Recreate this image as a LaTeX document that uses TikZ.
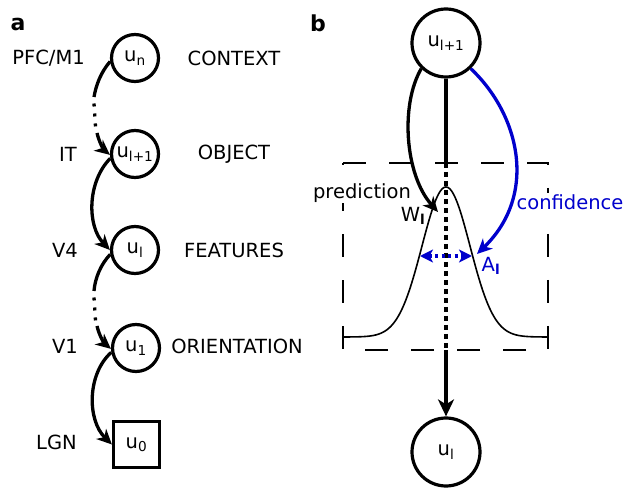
\documentclass[tikz,border=0pt]{standalone}
\usepackage{fontspec}
\setmainfont{DejaVu Sans}
\usetikzlibrary{arrows.meta}
\definecolor{cblue}{RGB}{0,0,204}
\begin{document}
\begin{tikzpicture}[x=1pt,y=-1pt,
  every node/.style={font=\fontsize{19.5}{23}\selectfont},
  lbl/.style={inner sep=0pt},
  panel/.style={inner sep=0pt,font=\fontsize{22}{26}\selectfont\bfseries},
  unit/.style={circle,draw,line width=3.2pt,minimum size=47pt,inner sep=0pt},
  bigunit/.style={circle,draw,line width=3.2pt,minimum size=68pt,inner sep=0pt},
  inunit/.style={rectangle,draw,line width=3.2pt,minimum size=46pt,inner sep=0pt},
  conn/.style={line width=3.3pt},
  dots/.style={line width=3.3pt,dash pattern=on 3pt off 7pt},
  tipa/.style={-{Stealth[length=15pt,width=14pt,inset=4.5pt]}},
  tipb/.style={-{Stealth[length=17pt,width=16pt,inset=5pt]}},
  boxdash/.style={line width=2.3pt,dash pattern=on 23pt off 23pt},
  tag/.style={inner sep=1pt,fill=white}
]
\useasboundingbox (0,0) rectangle (641,492);

% ---------- panel a ----------
\node[panel] (pa) at (18,24) {a};
\node[unit] (un)  at (135,58)  {u\textsubscript{n}};
\node[unit] (ul1) at (135,154) {u\textsubscript{l+1}};
\node[unit] (ul)  at (135,250) {u\textsubscript{l}};
\node[unit] (u1)  at (136,348) {u\textsubscript{1}};
\node[inunit] (u0) at (136.5,444.5) {u\textsubscript{0}};

\node[lbl,anchor=east] (l1) at (85,58)  {PFC/M1};
\node[lbl,anchor=east] (l2) at (77,154) {IT};
\node[lbl,anchor=east] (l3) at (78,250) {V4};
\node[lbl,anchor=east] (l4) at (78,346) {V1};
\node[lbl,anchor=east] (l5) at (77,442) {LGN};

\node[lbl] (r1) at (234,58)  {CONTEXT};
\node[lbl] (r2) at (234,154) {OBJECT};
\node[lbl] (r3) at (234,250) {FEATURES};
\node[lbl] (r4) at (237,346) {ORIENTATION};

\coordinate (s1) at (94,97);
\coordinate (d1) at (94,103.5);
\coordinate (d2) at (95.5,126.5);
\coordinate (s2) at (97,133);
\draw[conn] (un.188) .. controls (101,72) and (96,85) .. (s1);
\draw[dots] (d1) -- (d2);
\draw[conn,tipa] (s2) .. controls (99,142) and (104,150) .. (ul1.182);

\draw[conn,tipa] (ul1.190) .. controls (87,182) and (87,226) .. (ul.180);

\coordinate (s3) at (94,291);
\coordinate (d3) at (94,297.5);
\coordinate (d4) at (95.5,320.5);
\coordinate (s4) at (97,326);
\draw[conn] (ul.190) .. controls (101,264) and (95,278) .. (s3);
\draw[dots] (d3) -- (d4);
\draw[conn,tipa] (s4) .. controls (99,335) and (104,343) .. (u1.182);

\draw[conn,tipa] (u1.190) .. controls (87,374) and (87,420) .. (u0.west);

% ---------- panel b ----------
\node[panel] (pb) at (318,23) {b};
\node[bigunit] (top) at (446,43)  {u\textsubscript{l+1}};
\node[bigunit] (bot) at (446,452) {u\textsubscript{l}};

\draw[boxdash] (343,163) -- (548,163) -- (548,350) -- (343,350) -- cycle;
\draw[line width=1.6pt] plot[domain=-103:101,samples=150,smooth]
  ({446+\x},{337-150*exp(-(\x*\x)/1152)});

\coordinate (c1) at (446,163);
\coordinate (c2) at (446,350);
\draw[conn] (top.south) -- (c1);
\draw[line width=3.6pt,dash pattern=on 5pt off 4pt] (c1) -- (c2);
\draw[conn,tipb] (c2) -- (bot.north);

\node[tag] (pred) at (362,193) {prediction};
\node[tag,text=cblue] (conf) at (570,202) {confidence};
\node[lbl] (wl) at (413,216) {W\textsubscript{\textbf{l}}};
\node[lbl,text=cblue] (al) at (491,266) {A\textsubscript{\textbf{l}}};

\coordinate (pw) at (438,212);
\coordinate (pc) at (477,254);
\draw[conn,tipa] (top.-134) .. controls (400,105) and (405,175) .. (pw);
\draw[conn,cblue,tipa] (top.-46) .. controls (520,115) and (538,195) .. (pc);

\coordinate (aL) at (420,256);
\coordinate (aR) at (472,256);
\draw[line width=3.3pt,cblue,dash pattern=on 3pt off 3.5pt,
  {Stealth[length=13pt,width=13pt,inset=3.5pt]}-{Stealth[length=13pt,width=13pt,inset=3.5pt]}] (aL) -- (aR);
\end{tikzpicture}
\end{document}
